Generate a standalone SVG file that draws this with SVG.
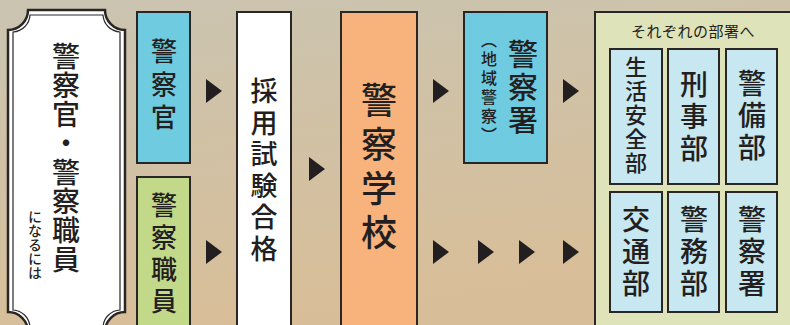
<svg xmlns="http://www.w3.org/2000/svg" width="790" height="325" viewBox="0 0 790 325">
<defs>
<linearGradient id="bg" x1="0" y1="0" x2="0.3" y2="1">
<stop offset="0" stop-color="#cac4b1"/>
<stop offset="1" stop-color="#d8be98"/>
</linearGradient>
<style>
.box{stroke:#2a2626;stroke-width:2}
.t{font-family:"Noto Sans CJK JP","Noto Sans CJK SC",sans-serif;font-weight:500;fill:#231f20;writing-mode:vertical-rl;text-anchor:middle}
.arr{fill:#231f20}
</style>
</defs>
<rect width="790" height="325" fill="url(#bg)"/>
<g id="title">
<path d="M28 10 H105 A20 20 0 0 0 125 30 V312 A20 20 0 0 0 105 332 H28 A20 20 0 0 0 8 312 V30 A20 20 0 0 0 28 10 Z" fill="#fff" stroke="#2a2626" stroke-width="2.5"/>
<path d="M30 15 H103 A18 18 0 0 0 120 32 V310 A18 18 0 0 0 103 327 H30 A18 18 0 0 0 13 310 V32 A18 18 0 0 0 30 15 Z" fill="none" stroke="#2a2626" stroke-width="1.2"/>
<text class="t" x="66" y="158" font-size="28" letter-spacing="1">警察官・警察職員</text>
<text class="t" x="35" y="245" font-size="14" font-weight="400" letter-spacing="0">になるには</text>
</g>
<g id="keisatsukan">
<rect class="box" x="137" y="12" width="53" height="151" fill="#6ecbe0"/>
<text class="t" x="164" y="88" font-size="26" letter-spacing="7">警察官</text>
</g>
<g id="shokuin">
<rect class="box" x="137" y="177" width="53" height="160" fill="#c3d98a"/>
<text class="t" x="164" y="256" font-size="26" letter-spacing="6">警察職員</text>
</g>
<g id="shiken">
<rect class="box" x="237" y="12" width="54" height="330" fill="#fff"/>
<text class="t" x="264" y="172" font-size="27" letter-spacing="4.5">採用試験合格</text>
</g>
<g id="gakko">
<rect class="box" x="341" y="12" width="76" height="330" fill="#f8b27c"/>
<text class="t" x="379" y="170" font-size="36" letter-spacing="8">警察学校</text>
</g>
<g id="keisatsusho">
<rect class="box" x="464" y="12" width="83" height="151" fill="#6ecbe0"/>
<text class="t" x="523" y="88" font-size="30" letter-spacing="3">警察署</text>
<text class="t" x="489" y="89" font-size="16" letter-spacing="3">（地域警察）</text>
</g>
<g id="busho">
<rect class="box" x="595" y="12" width="205" height="330" fill="#dfe3b9"/>
<text x="693" y="37" font-family="Noto Sans CJK JP,sans-serif" font-size="15" fill="#231f20" text-anchor="middle" letter-spacing="0.5">それぞれの部署へ</text>
</g>
<g id="seikatsu">
<rect class="box" x="610" y="49" width="52" height="135" fill="#c7e7f1"/>
<text class="t" x="636" y="116" font-size="22" letter-spacing="2">生活安全部</text>
</g>
<g id="keiji">
<rect class="box" x="668" y="49" width="51" height="135" fill="#c7e7f1"/>
<text class="t" x="694" y="118" font-size="28" letter-spacing="4">刑事部</text>
</g>
<g id="keibi">
<rect class="box" x="726" y="49" width="51" height="135" fill="#c7e7f1"/>
<text class="t" x="752" y="117" font-size="28" letter-spacing="4">警備部</text>
</g>
<g id="kotsu">
<rect class="box" x="610" y="192" width="52" height="120" fill="#c7e7f1"/>
<text class="t" x="636" y="253" font-size="28" letter-spacing="4">交通部</text>
</g>
<g id="keimu">
<rect class="box" x="668" y="192" width="51" height="120" fill="#c7e7f1"/>
<text class="t" x="694" y="253" font-size="28" letter-spacing="4">警務部</text>
</g>
<g id="keisatsusho2">
<rect class="box" x="726" y="192" width="51" height="120" fill="#c7e7f1"/>
<text class="t" x="752" y="253" font-size="28" letter-spacing="4">警察署</text>
</g>
<g id="connectors">
<polygon class="arr" points="206,79 222,91 206,103"/>
<polygon class="arr" points="206,240 222,252 206,264"/>
<polygon class="arr" points="309,157 325,169 309,181"/>
<polygon class="arr" points="433,79 449,91 433,103"/>
<polygon class="arr" points="563,79 579,91 563,103"/>
<polygon class="arr" points="433,240 449,252 433,264"/>
<polygon class="arr" points="478,240 494,252 478,264"/>
<polygon class="arr" points="519,240 535,252 519,264"/>
<polygon class="arr" points="563,240 579,252 563,264"/>
</g>
</svg>
